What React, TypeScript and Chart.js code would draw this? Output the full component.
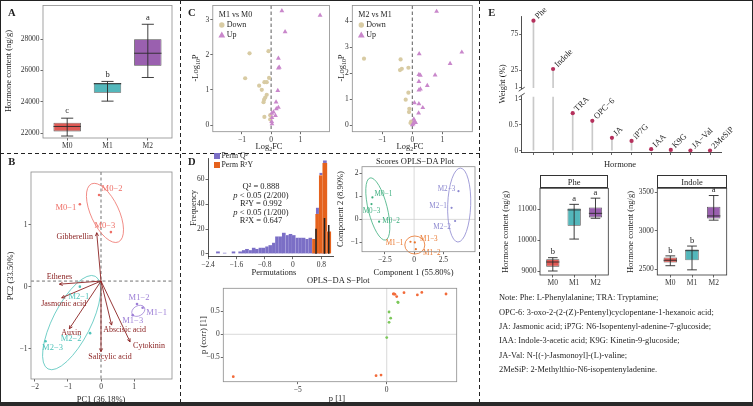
import React, { useEffect, useRef } from "react";
import { Chart, registerables } from "chart.js";

Chart.register(...registerables);

const W = 753;
const H = 406;
const FONT = '"Liberation Serif", "Times New Roman", Times, serif';
const INK = "#1e1e1e";
Chart.defaults.font.family = FONT;

// ================= DATA =================
// Panel A – total hormone content
const groups = ["M0", "M1", "M2"];
const aTicks = [22000, 24000, 26000, 28000];
const aMin = [21810, 24040, 25550];
const aQ1 = [22107, 24570, 26300];
const aMed = [22420, 25150, 27100];
const aQ3 = [22656, 25200, 28000];
const aMax = [22950, 25300, 28950];
const aLetters = ["c", "b", "a"];

// Panel B – PCA biplot
const pcaSamples = ["M0−1", "M0−2", "M0−3", "M1−1", "M1−2", "M1−3", "M2−1", "M2−2", "M2−3"];
const pcaX = [-0.64, -0.06, 0.3, 1.26, 1.09, 0.96, -0.64, -0.33, -1.68];
const pcaY = [1.33, 1.48, 0.88, -0.34, -0.28, -0.46, 0.0, -0.75, -0.88];
const pcaGroup = [0, 0, 0, 1, 1, 1, 2, 2, 2];
const loadNames = ["Gibberellin", "Ethenes", "Jasmonic acid", "Auxin", "Salicylic acid", "Abscisic acid", "Cytokinin"];
const loadX = [-0.13, -1.26, -1.19, -0.96, 0.0, 0.32, 0.88];
const loadY = [0.87, 0.04, -0.18, -0.68, -1.05, -0.62, -0.89];
const pcaOrigin = [0, 0.09];
const pcaEllX = [0.12, 1.13, -0.89];
const pcaEllY = [1.19, -0.39, -0.58];
const pcaXTicks = [-2, -1, 0, 1];
const pcaYTicks = [-1, 0, 1];

// Panel C – volcano plots
const v1DownX = [-0.74, -0.09, -0.89, -0.07, -0.23, -0.15, -0.41, -0.32, -0.15, -0.2, -0.24, -0.26, -0.23, -0.03, -0.03];
const v1DownY = [2.04, 2.1, 1.33, 1.34, 1.22, 1.22, 1.12, 1.0, 0.86, 0.78, 0.72, 0.65, 0.23, 0.28, 0.16];
const v1UpX = [0.37, 1.68, 0.48, 0.25, 0.28, 0.25, 0.23, 0.17, 0.25, 0.18, 0.08, 0.02, 0.15, 0.03, 0.02, 0.03];
const v1UpY = [3.25, 3.12, 2.65, 1.9, 1.64, 1.62, 0.98, 0.65, 0.5, 0.46, 0.37, 0.33, 0.27, 0.21, 0.1, 0.03];
const v2DownX = [-1.61, -0.39, -0.35, -0.41, -0.13, -0.13, -0.22, -0.1, -0.11, -0.04, -0.06];
const v2DownY = [2.56, 2.53, 2.17, 2.12, 2.21, 1.25, 0.98, 0.63, 0.5, 0.13, 0.08];
const v2UpX = [0.81, 1.65, 0.23, 1.26, 0.76, 0.22, 0.27, 0.22, 0.5, 0.27, 0.22, 0.07, 0.22, 0.35, 0.21, 0.05, 0.07, 0.11, 0.03, 0.0];
const v2UpY = [4.38, 2.81, 2.75, 2.37, 1.93, 1.95, 1.92, 1.68, 1.52, 1.39, 1.35, 0.86, 0.82, 0.67, 0.46, 0.23, 0.15, 0.1, 0.05, 0.01];
const v1YTicks = [0, 1, 2, 3];
const v2YTicks = [0, 1, 2, 3, 4];
const volXTicks = [-1, 0, 1];

// Panel D – permutation histogram
const q2BinX = [-2.12, -1.93, -1.68, -1.49, -1.39, -1.3, -1.2, -1.11, -1.02, -0.92, -0.83, -0.73, -0.64, -0.54, -0.45, -0.35, -0.26, -0.16, -0.07, 0.02, 0.12, 0.21, 0.3, 0.4, 0.49, 0.59, 0.7, 0.8, 0.9];
const q2Count = [2, 1, 2, 2, 3, 4, 3, 5, 4, 5, 5, 6, 7, 9, 14, 14, 17, 15, 16, 15, 13, 13, 13, 12, 13, 12, 37, 65, 75];
const r2yBinX = [0.61, 0.7, 0.8, 0.9, 1.01];
const r2yCount = [12, 32, 63, 73, 18];
const obsX = [0.65, 0.89, 1.01];
const obsH = [20, 28.5, 23];
const histXTicks = [-2.4, -1.6, -0.8, 0, 0.8];
const histYTicks = [0, 20, 40, 60];

// Panel D – OPLS-DA scores
const scSamples = ["M0−1", "M0−3", "M0−2", "M1−1", "M1−3", "M1−2", "M2−3", "M2−1", "M2−2"];
const scX = [-3.56, -3.64, -2.99, -0.31, 0.06, 0.15, 3.79, 3.2, 3.5];
const scY = [0.95, 0.66, -0.1, -0.97, -1.0, -1.29, 1.22, 0.5, -0.07];
const scGroup = [0, 0, 0, 1, 1, 1, 2, 2, 2];
const scEllX = [-3.1, 0.06, 3.85];
const scEllY = [0.45, -1.11, 0.62];
const scXTicks = [-2.5, 0, 2.5];
const scYTicks = [-1, 0, 1, 2];

// Panel D – S-plot
const sUpX = [-8.62, -0.6, -0.32, 0.37, 0.46, 0.41, 0.56, 0.97, 1.72, 1.97, 3.33];
const sUpY = [-0.92, -0.9, -0.885, 0.876, 0.87, 0.88, 0.82, 0.905, 0.855, 0.91, 0.876];
const sLowX = [0.62, 0.64, 0.13, 0.22, 0.13, 0.0];
const sLowY = [0.7, 0.69, 0.485, 0.35, 0.26, -0.07];
const sXTicks = [-5, 0];
const sYTicks = [-0.5, 0, 0.5];

// Panel E – weights
const lolNames = ["Phe", "Indole", "TRA", "OPC−6", "JA", "iP7G", "IAA", "K9G", "JA−Val", "2MeSiP"];
const lolWeight = [93.5, 26.4, 0.73, 0.58, 0.25, 0.19, 0.03, 0.015, 0.004, 0.002];
const lolTopTicks = [1, 25, 75];
const lolBotTicks = [0, 0.5, 1];

// Panel E – Phe / Indole boxplots
const pheMin = [9000, 10030, 10700];
const pheQ1 = [9140, 10460, 10730];
const pheMed = [9290, 10970, 10860];
const pheQ3 = [9377, 11020, 11050];
const pheMax = [9430, 11150, 11350];
const pheLetters = ["b", "a", "a"];
const pheTicks = [9000, 10000, 11000];
const indMin = [2544, 2490, 3137];
const indQ1 = [2586, 2615, 3159];
const indMed = [2615, 2740, 3192];
const indQ3 = [2650, 2756, 3313];
const indMax = [2672, 2800, 3458];
const indLetters = ["b", "b", "a"];
const indTicks = [2500, 3000, 3500];

const noteLines = [
  "Note: Phe: L-Phenylalanine; TRA: Tryptamine;",
  "OPC-6: 3-oxo-2-(2-(Z)-Pentenyl)cyclopentane-1-hexanoic acid;",
  "JA: Jasmonic acid; iP7G: N6-Isopentenyl-adenine-7-glucoside;",
  "IAA: Indole-3-acetic acid; K9G: Kinetin-9-glucoside;",
  "JA-Val: N-[(-)-Jasmonoyl]-(L)-valine;",
  "2MeSiP: 2-Methylthio-N6-isopentenyladenine.",
];

// ================= STYLE =================
const boxFill = ["#E05A55", "#53B7BB", "#9A60AF"];
const pcaCols = ["#EE6F67", "#9D7FD6", "#4FC3BA"];
const arrowCol = "#8B2222";
const DOWN = "#D8CBA3";
const UP = "#C987CB";
const Q2COL = "#7B6FC6";
const R2COL = "#E5621D";
const scCols = ["#3DAE7E", "#E8742A", "#8B87CF"];
const sUpCol = "#F26B3A";
const sLowCol = "#7CC85A";
const lolPoint = "#B5305C";
const pcaLabOff = [[-14, 4], [13, -6], [-6, -6], [14, 5], [2, -6], [0, 6], [-1, 10], [-19, 6], [7, 7]];
const loadLabOff = [[-22, 4], [0, -7], [2, 6], [2, 4], [9, 5], [13, 5], [19, 4]];
const pcaEllGeom = [[32, 14, 65], [7, 5, -30], [52, 19, 117]];
const scLabOff = [[11, -3], [0, 7], [12, -1], [-16, 1], [14, -3], [16, 4], [-12, -2], [-13.5, -1.5], [-13, 6]];
const scEllGeom = [[32, 9.5, 76], [10, 9, 0], [37, 11.5, 92]];

// ================= HELPERS =================
type Area = { l: number; t: number; r: number; b: number };
const fmt = (v: number) => String(+Number(v).toFixed(4)).replace("-", "\u2212");
const pts = (xs: number[], ys: number[]) => xs.map((x, i) => ({ x, y: ys[i] }));

function axis(kind: "x" | "y", min: number, max: number, ticks: number[], size: number, o: any = {}) {
  return {
    type: "linear",
    position: kind === "x" ? "bottom" : "left",
    min,
    max,
    offset: false,
    display: o.display ?? true,
    afterBuildTicks: (s: any) => {
      s.ticks = ticks.map((v) => ({ value: v }));
    },
    afterFit: (s: any) => {
      if (kind === "x") s.height = size;
      else s.width = size;
    },
    ticks: {
      font: { family: FONT, size: 7.5 },
      color: "#333",
      padding: 1,
      autoSkip: false,
      maxRotation: 0,
      minRotation: 0,
      callback: o.cb ?? ((v: number) => fmt(v)),
    },
    grid: { display: true, drawOnChartArea: false, drawTicks: true, tickLength: 2.5, tickColor: "#444", tickWidth: 0.8, offset: false },
    border: { display: !!o.border, color: "#222", width: 0.8 },
  };
}

function base(a: Area, yW: number, xH: number, scales: any) {
  return {
    responsive: false,
    animation: false,
    events: [],
    layout: { padding: { left: a.l - yW, top: a.t, right: W - a.r, bottom: H - a.b - xH } },
    plugins: { legend: { display: false }, tooltip: { enabled: false }, title: { display: false } },
    scales,
  };
}

function ctext(ctx: any, s: string, x: number, y: number, color: string, size: number, align = "center", rot = 0) {
  ctx.save();
  ctx.translate(x, y);
  if (rot) ctx.rotate(rot);
  ctx.fillStyle = color;
  ctx.font = `${size}px ${FONT}`;
  ctx.textAlign = align;
  ctx.textBaseline = "middle";
  ctx.fillText(s, 0, 0);
  ctx.restore();
}

const frame = (color: string, lw = 0.8) => ({
  id: "frame",
  afterDatasetsDraw(c: any) {
    const { ctx, chartArea: a } = c;
    ctx.save();
    ctx.strokeStyle = color;
    ctx.lineWidth = lw;
    ctx.strokeRect(a.left, a.top, a.right - a.left, a.bottom - a.top);
    ctx.restore();
  },
});

const refLines = (xs: number[], ys: number[], color: string, dash: number[], lw = 0.7) => ({
  id: "refLines",
  beforeDatasetsDraw(c: any) {
    const { ctx, chartArea: a, scales } = c;
    ctx.save();
    ctx.strokeStyle = color;
    ctx.lineWidth = lw;
    ctx.setLineDash(dash);
    xs.forEach((v) => {
      const p = scales.x.getPixelForValue(v);
      ctx.beginPath();
      ctx.moveTo(p, a.top);
      ctx.lineTo(p, a.bottom);
      ctx.stroke();
    });
    ys.forEach((v) => {
      const p = scales.y.getPixelForValue(v);
      ctx.beginPath();
      ctx.moveTo(a.left, p);
      ctx.lineTo(a.right, p);
      ctx.stroke();
    });
    ctx.restore();
  },
});

function ellipse(ctx: any, c: any, cx: number, cy: number, g: number[], color: string, lw = 0.8) {
  const px = c.scales.x.getPixelForValue(cx);
  const py = c.scales.y.getPixelForValue(cy);
  ctx.save();
  ctx.strokeStyle = color;
  ctx.lineWidth = lw;
  ctx.beginPath();
  ctx.ellipse(px, py, g[0], g[1], (g[2] * Math.PI) / 180, 0, Math.PI * 2);
  ctx.stroke();
  ctx.restore();
}

const whiskers = (mins: number[], meds: number[], maxs: number[], letters: string[], capFrac: number, boxFrac: number, letterOff: number) => ({
  id: "whiskers",
  afterDatasetsDraw(c: any) {
    const { ctx, scales } = c;
    const x = scales.x;
    const y = scales.y;
    const unit = x.getPixelForValue(1) - x.getPixelForValue(0);
    ctx.save();
    ctx.strokeStyle = "#2a2a2a";
    ctx.lineWidth = 0.9;
    mins.forEach((mn, i) => {
      const cx = x.getPixelForValue(i);
      const y0 = y.getPixelForValue(mn);
      const y1 = y.getPixelForValue(maxs[i]);
      const ym = y.getPixelForValue(meds[i]);
      const cw = (unit * capFrac) / 2;
      const bw = (unit * boxFrac) / 2;
      ctx.beginPath();
      ctx.moveTo(cx, y0);
      ctx.lineTo(cx, y1);
      ctx.moveTo(cx - cw, y0);
      ctx.lineTo(cx + cw, y0);
      ctx.moveTo(cx - cw, y1);
      ctx.lineTo(cx + cw, y1);
      ctx.moveTo(cx - bw, ym);
      ctx.lineTo(cx + bw, ym);
      ctx.stroke();
      ctext(ctx, letters[i], cx, y1 - letterOff, INK, 8.5);
    });
    ctx.restore();
  },
});

function boxChart(a: Area, yW: number, mins: number[], q1s: number[], meds: number[], q3s: number[], maxs: number[], letters: string[], yMin: number, yMax: number, ticks: number[], frameCol: string, boxFrac: number, capFrac: number, letterOff: number) {
  return {
    type: "bar",
    data: {
      datasets: [
        {
          data: q1s.map((q, i) => ({ x: i, y: [q, q3s[i]] })),
          backgroundColor: boxFill,
          borderColor: "#4a4a4a",
          borderWidth: 0.8,
          borderSkipped: false,
          barPercentage: boxFrac,
          categoryPercentage: 1,
        },
      ],
    },
    options: base(a, yW, 12, {
      x: axis("x", -0.6, 2.6, [0, 1, 2], 12, { cb: (v: number) => groups[Math.round(v)] }),
      y: axis("y", yMin, yMax, ticks, yW),
    }),
    plugins: [whiskers(mins, meds, maxs, letters, capFrac, boxFrac, letterOff), frame(frameCol)],
  };
}

// ================= CHARTS =================
const makeA = () =>
  boxChart({ l: 43, t: 4, r: 172, b: 138 }, 30, aMin, aQ1, aMed, aQ3, aMax, aLetters, 21684, 30150, aTicks, "#8c8c8c", 0.68, 0.3, 7);

const pcaPlugin = {
  id: "pca",
  afterDatasetsDraw(c: any) {
    const { ctx, scales } = c;
    const x = scales.x;
    const y = scales.y;
    pcaEllX.forEach((cx, g) => ellipse(ctx, c, cx, pcaEllY[g], pcaEllGeom[g], pcaCols[g], 0.8));
    const ox = x.getPixelForValue(pcaOrigin[0]);
    const oy = y.getPixelForValue(pcaOrigin[1]);
    ctx.save();
    ctx.strokeStyle = arrowCol;
    ctx.lineWidth = 0.9;
    loadX.forEach((lx, i) => {
      const ex = x.getPixelForValue(lx);
      const ey = y.getPixelForValue(loadY[i]);
      const ang = Math.atan2(ey - oy, ex - ox);
      ctx.beginPath();
      ctx.moveTo(ox, oy);
      ctx.lineTo(ex, ey);
      ctx.moveTo(ex, ey);
      ctx.lineTo(ex - 3.6 * Math.cos(ang - 0.45), ey - 3.6 * Math.sin(ang - 0.45));
      ctx.moveTo(ex, ey);
      ctx.lineTo(ex - 3.6 * Math.cos(ang + 0.45), ey - 3.6 * Math.sin(ang + 0.45));
      ctx.stroke();
      ctext(ctx, loadNames[i], ex + loadLabOff[i][0], ey + loadLabOff[i][1], arrowCol, 8);
    });
    ctx.restore();
    pcaX.forEach((px, i) => {
      ctext(ctx, pcaSamples[i], x.getPixelForValue(px) + pcaLabOff[i][0], y.getPixelForValue(pcaY[i]) + pcaLabOff[i][1], pcaCols[pcaGroup[i]], 8.5);
    });
  },
};

const makeB = () => ({
  type: "scatter",
  data: { datasets: [{ data: pts(pcaX, pcaY), backgroundColor: pcaGroup.map((g) => pcaCols[g]), pointRadius: 1.3, borderWidth: 0 }] },
  options: base({ l: 31, t: 172, r: 172, b: 379 }, 20, 12, {
    x: axis("x", -2.12, 2.15, pcaXTicks, 12),
    y: axis("y", -1.49, 1.85, pcaYTicks, 20),
  }),
  plugins: [refLines([0], [pcaOrigin[1]], "#333", [3, 2.5]), pcaPlugin, frame("#8c8c8c")],
});

const volLegend = (title: string) => ({
  id: "volLegend",
  afterDatasetsDraw(c: any) {
    const { ctx, chartArea: a } = c;
    ctext(ctx, title, a.left + 6, a.top + 9, INK, 8, "left");
    ctx.save();
    ctx.fillStyle = DOWN;
    ctx.beginPath();
    ctx.arc(a.left + 9, a.top + 19.5, 2.7, 0, Math.PI * 2);
    ctx.fill();
    ctx.fillStyle = UP;
    const tx = a.left + 9;
    const ty = a.top + 29.5;
    ctx.beginPath();
    ctx.moveTo(tx, ty - 3.4);
    ctx.lineTo(tx + 3.4, ty + 2.4);
    ctx.lineTo(tx - 3.4, ty + 2.4);
    ctx.closePath();
    ctx.fill();
    ctx.restore();
    ctext(ctx, "Down", a.left + 14, a.top + 19.5, INK, 8, "left");
    ctext(ctx, "Up", a.left + 14, a.top + 29.5, INK, 8, "left");
  },
});

const makeVolcano = (a: Area, dx: number[], dy: number[], ux: number[], uy: number[], title: string, yMin: number, yMax: number, yTicks: number[]) => () => ({
  type: "scatter",
  data: {
    datasets: [
      { data: pts(ux, uy), pointStyle: "triangle", pointRadius: 2.8, backgroundColor: UP, borderWidth: 0 },
      { data: pts(dx, dy), pointStyle: "circle", pointRadius: 2.1, backgroundColor: DOWN, borderWidth: 0 },
    ],
  },
  options: base(a, 10, 12, {
    x: axis("x", -2, 2, volXTicks, 12),
    y: axis("y", yMin, yMax, yTicks, 10),
  }),
  plugins: [refLines([0], [], "#333", [3.5, 2.5], 0.8), volLegend(title), frame("#8c8c8c")],
});

const makeV1 = makeVolcano({ l: 212.8, t: 4, r: 329.4, b: 131.7 }, v1DownX, v1DownY, v1UpX, v1UpY, "M1 vs M0", -0.19, 3.4, v1YTicks);
const makeV2 = makeVolcano({ l: 352.3, t: 4, r: 472.3, b: 131.7 }, v2DownX, v2DownY, v2UpX, v2UpY, "M2 vs M1", -0.255, 4.61, v2YTicks);

const makeHist = () => ({
  type: "bar",
  data: {
    datasets: [
      { data: pts(obsX, obsH), backgroundColor: "#222", barThickness: 0.9, grouped: false },
      { data: pts(r2yBinX, r2yCount), backgroundColor: R2COL, borderColor: "#f6c7ad", borderWidth: 0.3, barThickness: 4.6, grouped: false },
      { data: pts(q2BinX, q2Count), backgroundColor: Q2COL, borderColor: "#c9c3ea", borderWidth: 0.3, barThickness: 3.5, grouped: false },
    ],
  },
  options: base({ l: 208, t: 158, r: 333, b: 256.7 }, 14, 12, {
    x: axis("x", -2.4, 1.13, histXTicks, 12, { border: true }),
    y: axis("y", -2.2, 77, histYTicks, 14, { border: true }),
  }),
  plugins: [],
});

const scPlugin = {
  id: "scores",
  afterDatasetsDraw(c: any) {
    const { ctx, scales } = c;
    scEllX.forEach((cx, g) => ellipse(ctx, c, cx, scEllY[g], scEllGeom[g], scCols[g], 0.8));
    scX.forEach((sx, i) => {
      ctext(ctx, scSamples[i], scales.x.getPixelForValue(sx) + scLabOff[i][0], scales.y.getPixelForValue(scY[i]) + scLabOff[i][1], scCols[scGroup[i]], 7.2);
    });
  },
};

const makeScores = () => ({
  type: "scatter",
  data: { datasets: [{ data: pts(scX, scY), backgroundColor: scGroup.map((g) => scCols[g]), pointRadius: 1.1, borderWidth: 0 }] },
  options: base({ l: 362, t: 166.7, r: 475, b: 251.7 }, 14, 12, {
    x: axis("x", -4.45, 5.2, scXTicks, 12),
    y: axis("y", -1.4, 2.28, scYTicks, 14),
  }),
  plugins: [refLines([0], [0], "#cfcfcf", [], 0.8), scPlugin, frame("#8c8c8c")],
});

const makeS = () => ({
  type: "scatter",
  data: {
    datasets: [
      { data: pts(sUpX, sUpY), backgroundColor: sUpCol, pointRadius: 1.4, borderWidth: 0 },
      { data: pts(sLowX, sLowY), backgroundColor: sLowCol, pointRadius: 1.4, borderWidth: 0 },
    ],
  },
  options: base({ l: 223.3, t: 288.3, r: 456.7, b: 381.7 }, 18, 12, {
    x: axis("x", -9.18, 3.93, sXTicks, 12),
    y: axis("y", -1.03, 1.0, sYTicks, 18),
  }),
  plugins: [refLines([0], [0], "#cfcfcf", [], 0.8), frame("#8c8c8c")],
});

const lolIdx = lolNames.map((_, i) => i);
const lolLabels = (lo: number, hi: number) => ({
  id: "lolLabels",
  afterDatasetsDraw(c: any) {
    const { ctx, scales } = c;
    lolWeight.forEach((v, i) => {
      if (v < lo || v > hi) return;
      ctext(ctx, lolNames[i], scales.x.getPixelForValue(i) + 3, scales.y.getPixelForValue(v) - 3, INK, 8.5, "left", -Math.PI / 4);
    });
  },
});

const breakMarks = {
  id: "breakMarks",
  afterDraw(c: any) {
    const { ctx, chartArea: a } = c;
    ctx.save();
    ctx.strokeStyle = "#222";
    ctx.lineWidth = 0.8;
    [a.top - 7.5, a.top - 1.5].forEach((cy) => {
      ctx.beginPath();
      ctx.moveTo(a.left - 3, cy + 2);
      ctx.lineTo(a.left + 3, cy - 2);
      ctx.stroke();
    });
    ctx.restore();
  },
};

const makeLol = (top: boolean) => () => {
  const keep = lolWeight.map((v) => (top ? v > 1 : v <= 1.05));
  const xs = lolIdx.filter((i) => keep[i]);
  const ys = lolWeight.filter((_, i) => keep[i]);
  const stemXs = top ? xs : lolIdx;
  const stemYs = top ? ys : lolWeight;
  const a = top ? { l: 521.7, t: 16, r: 721.8, b: 88 } : { l: 521.7, t: 96.7, r: 721.8, b: 152.5 };
  return {
    type: "bar",
    data: {
      datasets: [
        { type: "scatter", data: pts(xs, ys), backgroundColor: lolPoint, pointRadius: 2.1, borderWidth: 0 },
        { data: pts(stemXs, stemYs), backgroundColor: "#c9c9c9", barThickness: 1, grouped: false },
      ],
    },
    options: base(a, top ? 14 : 16, top ? 0 : 3, {
      x: axis("x", -0.6, 9.6, lolIdx, top ? 0 : 3, { display: !top, border: true, cb: () => "" }),
      y: top ? axis("y", 0, 100, lolTopTicks, 14, { border: true }) : axis("y", -0.035, 1.05, lolBotTicks, 16, { border: true }),
    }),
    plugins: top ? [lolLabels(1.0001, 1000)] : [lolLabels(-1, 1.05), breakMarks],
  };
};

const makePhe = () =>
  boxChart({ l: 540, t: 188.3, r: 608.3, b: 275 }, 26, pheMin, pheQ1, pheMed, pheQ3, pheMax, pheLetters, 8871, 11668, pheTicks, "#333", 0.62, 0.45, 5.5);
const makeInd = () =>
  boxChart({ l: 657.3, t: 188.3, r: 726.7, b: 275 }, 24, indMin, indQ1, indMed, indQ3, indMax, indLetters, 2423, 3552, indTicks, "#333", 0.62, 0.45, 5.5);

// ================= COMPONENTS =================
function ChartCanvas({ make }: { make: () => any }) {
  const ref = useRef<HTMLCanvasElement | null>(null);
  useEffect(() => {
    const chart = new Chart(ref.current as HTMLCanvasElement, make());
    return () => chart.destroy();
  }, [make]);
  return (
    <canvas
      ref={ref}
      width={W}
      height={H}
      style={{ position: "absolute", left: 0, top: 0, width: W, height: H, pointerEvents: "none" }}
    />
  );
}

function T({ x, y, size = 8.5, rot = 0, align = "center", weight = 400, italic = false, color = INK, children }: any) {
  const tx = align === "center" ? "-50%" : align === "right" ? "-100%" : "0";
  return (
    <div
      style={{
        position: "absolute",
        left: x,
        top: y,
        transform: `translate(${tx}, -50%) rotate(${rot}deg)`,
        fontSize: size,
        lineHeight: 1,
        whiteSpace: "nowrap",
        fontWeight: weight,
        fontStyle: italic ? "italic" : "normal",
        color,
        fontFamily: FONT,
      }}
    >
      {children}
    </div>
  );
}

const subStyle: any = { fontSize: "70%", verticalAlign: "-0.3em", lineHeight: 0 };

const lolTop = makeLol(true);
const lolBot = makeLol(false);

export default function App() {
  const dash = { stroke: "#222", strokeWidth: 1, strokeDasharray: "4 3" };
  return (
    <div style={{ position: "fixed", left: 0, top: 0, width: W, height: H, overflow: "hidden", background: "#fff", fontFamily: FONT }}>
      <ChartCanvas make={makeA} />
      <ChartCanvas make={makeB} />
      <ChartCanvas make={makeV1} />
      <ChartCanvas make={makeV2} />
      <ChartCanvas make={makeHist} />
      <ChartCanvas make={makeScores} />
      <ChartCanvas make={makeS} />
      <ChartCanvas make={lolTop} />
      <ChartCanvas make={lolBot} />
      <ChartCanvas make={makePhe} />
      <ChartCanvas make={makeInd} />

      <svg width={W} height={H} style={{ position: "absolute", left: 0, top: 0 }}>
        <line x1={180.5} y1={0} x2={180.5} y2={402} {...dash} />
        <line x1={0} y1={153.5} x2={480} y2={153.5} {...dash} />
        <line x1={479.5} y1={0} x2={479.5} y2={402} {...dash} />
        <rect x={0.5} y={0.5} width={752} height={402} fill="none" stroke="#222" strokeWidth={1} />
        <rect x={0} y={402} width={W} height={4} fill="#2a2a2a" />
      </svg>

      {/* panel letters */}
      <T x={11.7} y={12.7} size={10.5} weight={700}>A</T>
      <T x={11.7} y={161.7} size={10.5} weight={700}>B</T>
      <T x={191.7} y={12.5} size={10.5} weight={700}>C</T>
      <T x={191.7} y={161.7} size={10.5} weight={700}>D</T>
      <T x={491.7} y={13.3} size={10.5} weight={700}>E</T>

      {/* A */}
      <T x={8} y={71} rot={-90}>Hormone content (ng/g)</T>
      {/* B */}
      <T x={10} y={276} rot={-90}>PC2 (33.50%)</T>
      <T x={101} y={398.5}>PC1 (36.18%)</T>
      {/* C */}
      <T x={195} y={68} rot={-90}>-Log<sub style={subStyle}>10</sub>P</T>
      <T x={341} y={68} rot={-90}>-Log<sub style={subStyle}>10</sub>P</T>
      <T x={269} y={146}>Log<sub style={subStyle}>2</sub>FC</T>
      <T x={410} y={146}>Log<sub style={subStyle}>2</sub>FC</T>
      {/* D hist */}
      <T x={193} y={208} rot={-90}>Frequency</T>
      <T x={274} y={272}>Permutations</T>
      <div style={{ position: "absolute", left: 214, top: 153, width: 6, height: 6, background: Q2COL }} />
      <div style={{ position: "absolute", left: 214, top: 161.5, width: 6, height: 6, background: R2COL }} />
      <T x={221.5} y={156.2} size={7.8} align="left">Perm Q²</T>
      <T x={221.5} y={164.7} size={7.8} align="left">Perm R²Y</T>
      <T x={261} y={186}>Q² = 0.888</T>
      <T x={261} y={194.5}><i>p</i> &lt; 0.05 (2/200)</T>
      <T x={261} y={203}>R²Y = 0.992</T>
      <T x={261} y={211.5}><i>p</i> &lt; 0.05 (1/200)</T>
      <T x={261} y={220}>R²X = 0.647</T>
      {/* D scores */}
      <T x={415} y={160.7}>Scores OPLS−DA Plot</T>
      <T x={413.5} y={271.7}>Component 1 (55.80%)</T>
      <T x={340} y={209} rot={-90}>Component 2 (8.90%)</T>
      {/* D S-plot */}
      <T x={338.3} y={280}>OPLS−DA S−Plot</T>
      <T x={337} y={398}>p [1]</T>
      <T x={203} y={335} rot={-90}>p (corr) [1]</T>
      {/* E */}
      <T x={501.5} y={84} rot={-90}>Weight (%)</T>
      <T x={620} y={163.5}>Hormone</T>
      <div style={{ position: "absolute", left: 540, top: 175, width: 68.3, height: 13.3, border: "0.8px solid #333", boxSizing: "border-box" }} />
      <div style={{ position: "absolute", left: 657.3, top: 175, width: 69.4, height: 13.3, border: "0.8px solid #333", boxSizing: "border-box" }} />
      <T x={574.2} y={182}>Phe</T>
      <T x={692} y={182}>Indole</T>
      <T x={505} y={232} rot={-90}>Hormone content (ng/g)</T>
      <T x={630} y={232} rot={-90}>Hormone content (ng/g)</T>
      {noteLines.map((s, i) => (
        <T key={i} x={499} y={298.3 + i * 14.3} size={8.4} align="left">
          {s}
        </T>
      ))}
    </div>
  );
}
